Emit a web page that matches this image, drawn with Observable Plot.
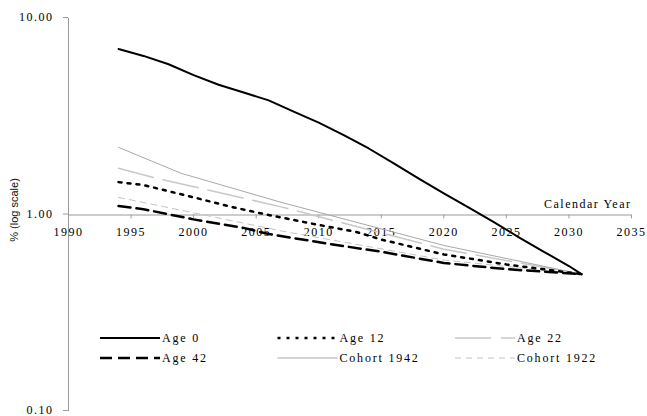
<!DOCTYPE html>
<html><head><meta charset="utf-8">
<script src="https://cdn.jsdelivr.net/npm/d3@7"></script>
<script src="https://cdn.jsdelivr.net/npm/@observablehq/plot@0.6"></script>
<style>
body{margin:0;background:#fff;}
#chart{position:relative;width:647px;height:416px;}
#chart svg text{letter-spacing:1.5px;font-family:"Liberation Serif","Times New Roman","DejaVu Serif",serif;}
#overlay{position:absolute;left:0;top:0;pointer-events:none;}
</style></head><body><div id="chart"></div>
<script>
// ---- data ----
const age0Years = [1994,1996,1998,2000,2002,2004,2006,2008,2010,2012,2014,2016,2018,2020,2022,2024,2026,2028,2030,2031];
const age0Values = [7.0,6.45,5.85,5.15,4.6,4.2,3.83,3.36,2.95,2.55,2.18,1.83,1.53,1.29,1.09,0.92,0.77,0.65,0.55,0.50];
const age12Years = [1994,1996,2000,2003,2006,2010,2013,2015,2020,2025,2031];
const age12Values = [1.47,1.42,1.23,1.10,1.00,0.89,0.82,0.75,0.63,0.56,0.50];
const age22Years = [1994,1997,2007,2020,2031];
const age22Values = [1.73,1.54,1.10,0.67,0.50];
const age42Years = [1994,1996,2000,2004,2006,2011,2015,2020,2025,2031];
const age42Values = [1.11,1.07,0.95,0.86,0.80,0.71,0.65,0.57,0.53,0.50];
const cohort1942Years = [1994,1999,2007,2020,2031];
const cohort1942Values = [2.21,1.63,1.16,0.70,0.50];
const cohort1922Years = [1994,2007,2020,2031];
const cohort1922Values = [1.23,0.83,0.59,0.50];
const xTicks = [1990,1995,2000,2005,2010,2015,2020,2025,2030,2035];
const yTicks = [0.1,1,10];
const seriesNames = ["Age 0","Age 12","Age 22","Age 42","Cohort 1942","Cohort 1922"];
const xLabel = "Calendar Year";
const yLabel = "% (log scale)";

// ---- build table ----
const seriesData = {
  "Age 0": [age0Years, age0Values],
  "Age 12": [age12Years, age12Values],
  "Age 22": [age22Years, age22Values],
  "Age 42": [age42Years, age42Values],
  "Cohort 1942": [cohort1942Years, cohort1942Values],
  "Cohort 1922": [cohort1922Years, cohort1922Values]
};
const rows = seriesNames.flatMap(name => {
  const [ys, vs] = seriesData[name];
  return ys.map((year, i) => ({series: name, year, value: vs[i]}));
});

const styles = {
  "Age 0": {stroke:"#000", strokeWidth:2, strokeDasharray:null},
  "Age 12": {stroke:"#000", strokeWidth:2.5, strokeDasharray:"3,6"},
  "Age 22": {stroke:"#c8c8c8", strokeWidth:1.5, strokeDasharray:"36,10"},
  "Age 42": {stroke:"#000", strokeWidth:2.5, strokeDasharray:"12,6"},
  "Cohort 1942": {stroke:"#a8a8a8", strokeWidth:1, strokeDasharray:null},
  "Cohort 1922": {stroke:"#c4c4c4", strokeWidth:1, strokeDasharray:"6,5"}
};
const drawOrder = ["Cohort 1922","Age 22","Cohort 1942","Age 42","Age 12","Age 0"];

const lineMarks = drawOrder.map(name => {
  const s = styles[name];
  const opts = {x:"year", y:"value", stroke:s.stroke, strokeWidth:s.strokeWidth};
  if (s.strokeDasharray) opts.strokeDasharray = s.strokeDasharray;
  return Plot.line(rows.filter(r => r.series === name), opts);
});

const axisColor = "#9a9a9a";
const plot = Plot.plot({
  width: 647, height: 416,
  marginLeft: 68, marginRight: 16, marginTop: 18, marginBottom: 5,
  x: {domain: [1990, 2035], axis: null},
  y: {type: "log", domain: [0.1, 10]},
  style: {fontSize: "12px", background: "white", color: "#000"},
  marks: [
    Plot.ruleX([1990], {y1: 0.1, y2: 10, stroke: axisColor}),
    Plot.ruleY([1], {stroke: axisColor}),
    Plot.ruleX(xTicks, {x: d => d, y1: 1, y2: 0.955, stroke: axisColor}),
    Plot.text(xTicks, {x: d => d, y: 1, dy: 17, text: d => String(d), fill: "#000", fontSize: 12}),
    Plot.axisY({ticks: yTicks, tickFormat: d => d.toFixed(2), tickSize: 5, tickPadding: 10, dy: -1, stroke: axisColor, label: null, fill: "#000", fontSize: 12}),
    ...lineMarks,
    Plot.text([xLabel], {x: 2035, y: 1, dy: -11, textAnchor: "end", text: d => d, fill: "#000", fontSize: 12})
  ]
});
const chart = document.getElementById("chart");
chart.appendChild(plot);

// ---- legend & y title overlay ----
const svg = d3.select(chart).append("svg").attr("id","overlay").attr("width",647).attr("height",416);
svg.append("text")
  .attr("transform","translate(15,210) rotate(-90)")
  .attr("text-anchor","middle").attr("dominant-baseline","middle")
  .style("font-family","'Liberation Sans', Arial, sans-serif").attr("font-size",11)
  .style("letter-spacing","0px").attr("fill","#111")
  .text(yLabel);
const lg = svg.append("g");
seriesNames.forEach((name, i) => {
  const col = i % 3, row = Math.floor(i / 3);
  const x0 = 100 + col * 177.5, y0 = 338 + row * 20;
  const s = styles[name];
  const ln = lg.append("line").attr("x1",x0).attr("x2",x0+60).attr("y1",y0).attr("y2",y0)
    .attr("stroke",s.stroke).attr("stroke-width",s.strokeWidth);
  if (s.strokeDasharray) ln.attr("stroke-dasharray", s.strokeDasharray);
  lg.append("text").attr("x",x0+62).attr("y",y0).attr("dy","0.35em")
    .attr("font-size",12)
    .style("letter-spacing","1.8px").attr("fill","#000").text(name);
});
</script>
</body></html>
